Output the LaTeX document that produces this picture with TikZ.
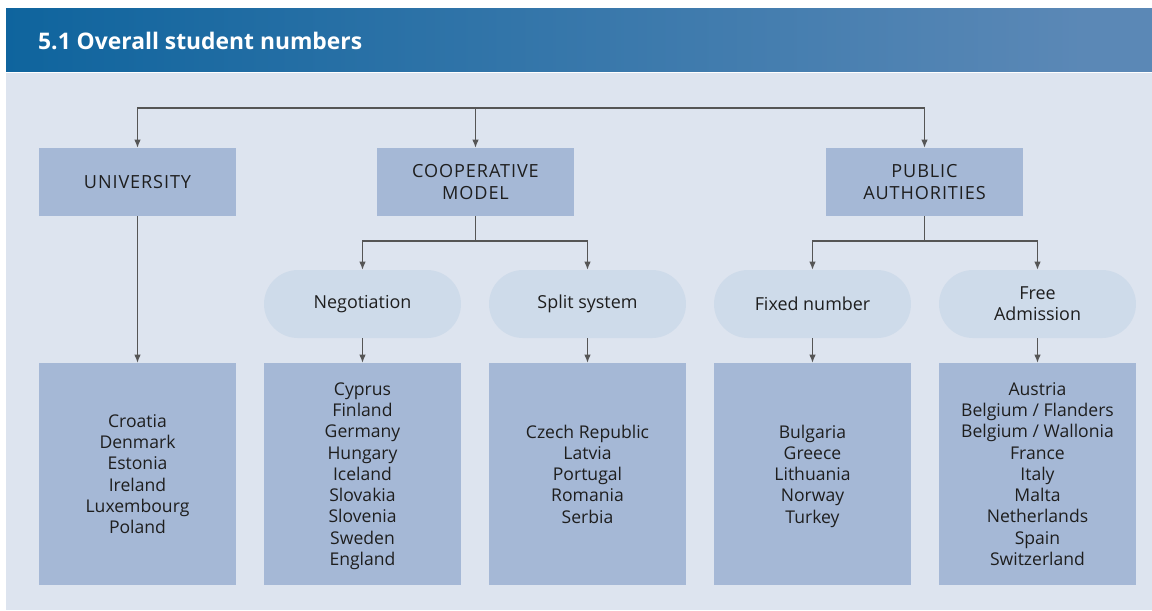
\documentclass[tikz,border=0pt]{standalone}
\usepackage{fontspec}
\setmainfont{Open Sans}
\usetikzlibrary{arrows.meta,positioning}

\definecolor{hdrdark}{HTML}{08568F}
\definecolor{hdrmid}{HTML}{0A629C}
\definecolor{hdrlight}{HTML}{5B88B6}
\definecolor{panelbg}{HTML}{DDE4EF}
\definecolor{boxfill}{HTML}{A5B8D6}
\definecolor{pillfill}{HTML}{CEDBEA}
\definecolor{inkgray}{HTML}{1E1E1E}
\definecolor{linegray}{HTML}{555555}

\pgfdeclarehorizontalshading{hdrshade}{100bp}{color(0bp)=(hdrdark); color(22bp)=(hdrmid); color(72bp)=(hdrlight); color(100bp)=(hdrlight)}

\tikzset{
  catbox/.style={fill=boxfill, inner sep=0pt, minimum width=3.94cm, minimum height=1.36cm,
    align=center, text=inkgray, font=\fontsize{10.3}{12}\selectfont\addfontfeature{LetterSpace=5}},
  pill/.style={fill=pillfill, inner sep=0pt, rounded corners=0.68cm, minimum width=3.94cm,
    minimum height=1.36cm, align=center, text=inkgray, font=\fontsize{10.2}{12}\selectfont},
  listbox/.style={fill=boxfill, inner sep=0pt, minimum width=3.94cm, minimum height=4.44cm,
    align=center, text depth=-2pt, text=inkgray, font=\fontsize{10}{12.1}\selectfont},
  link/.style={draw=linegray, line width=0.6pt, -{Latex[length=1.6mm,width=1.3mm]}},
  plain/.style={draw=linegray, line width=0.6pt},
}

\begin{document}
\begin{tikzpicture}[x=0.02cm,y=-0.02cm]

% Canvas and panels
\useasboundingbox (0,0) rectangle (1152,610);
\fill[panelbg] (6,73) rectangle (1152,610);
\shade[shading=hdrshade] (6,8) rectangle (1152,71);
\node[anchor=west, text=white, font=\fontsize{13}{15}\selectfont\bfseries] (title) at (32,41) {5.1 Overall student numbers};

% First level
\node[catbox] (univ) at (137.5,182) {UNIVERSITY};
\node[catbox] (coop) at (475.5,182) {COOPERATIVE\\MODEL};
\node[catbox] (pub) at (924.5,182) {PUBLIC\\AUTHORITIES};

% Second level
\node[pill] (nego) at (362.5,304) {Negotiation};
\node[pill] (split) at (587.5,304) {Split system};
\node[pill] (fixed) at (812.5,304) {Fixed number};
\node[pill] (free) at (1037.5,304) {Free\\Admission};

% Country lists
\node[listbox] (univlist) at (137.5,474) {Croatia\\Denmark\\Estonia\\Ireland\\Luxembourg\\Poland};
\node[listbox] (negolist) at (362.5,474) {Cyprus\\Finland\\Germany\\Hungary\\Iceland\\Slovakia\\Slovenia\\Sweden\\England};
\node[listbox] (splitlist) at (587.5,474) {Czech Republic\\Latvia\\Portugal\\Romania\\Serbia};
\node[listbox] (fixedlist) at (812.5,474) {Bulgaria\\Greece\\Lithuania\\Norway\\Turkey};
\node[listbox] (freelist) at (1037.5,474) {Austria\\Belgium / Flanders\\Belgium / Wallonia\\France\\Italy\\Malta\\Netherlands\\Spain\\Switzerland};

% Connectors
\coordinate (top) at (475.5,108);
\draw[link] (top) -| (univ.north);
\draw[link] (top) -- (coop.north);
\draw[link] (top) -| (pub.north);

\coordinate (coopfork) at (475.5,241);
\coordinate (pubfork) at (924.5,241);
\draw[plain] (coop.south) -- (coopfork);
\draw[link] (coopfork) -| (nego.north);
\draw[link] (coopfork) -| (split.north);
\draw[plain] (pub.south) -- (pubfork);
\draw[link] (pubfork) -| (fixed.north);
\draw[link] (pubfork) -| (free.north);

\draw[link] (univ) -- (univlist);
\draw[link] (nego) -- (negolist);
\draw[link] (split) -- (splitlist);
\draw[link] (fixed) -- (fixedlist);
\draw[link] (free) -- (freelist);

\end{tikzpicture}
\end{document}
